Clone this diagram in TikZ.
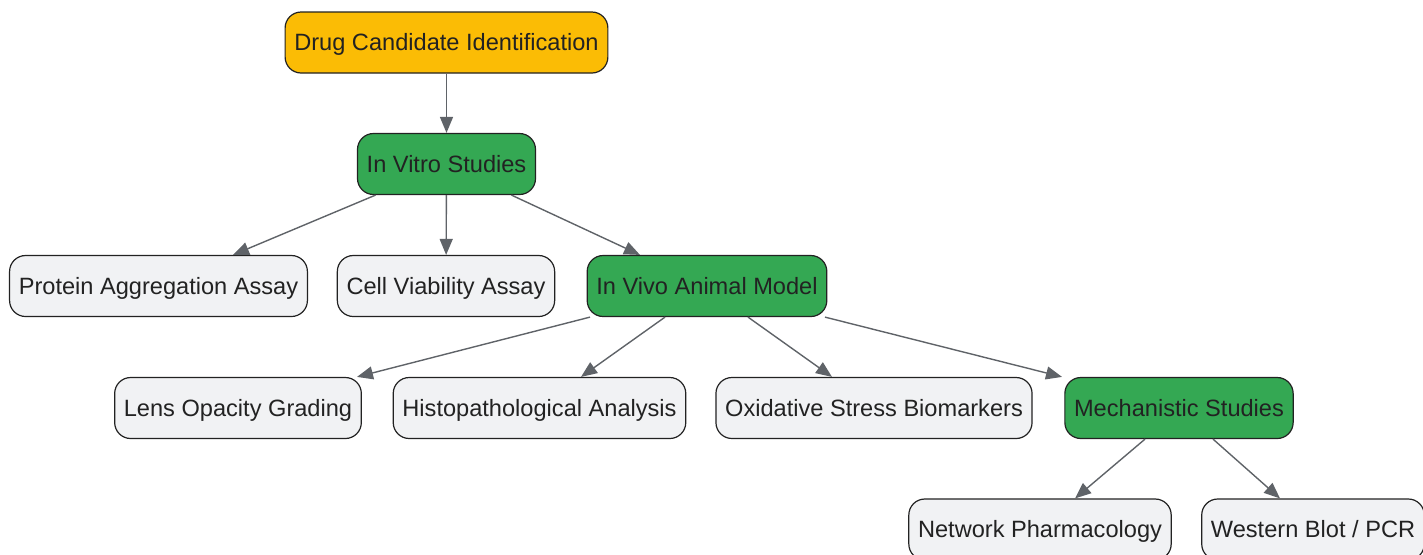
\documentclass[tikz,border=0pt]{standalone}
\usepackage{fontspec}
\setmainfont{Liberation Sans}
\usetikzlibrary{calc}
\usetikzlibrary{arrows.meta}
\definecolor{stepgray}{HTML}{F1F2F4}
\definecolor{stepgreen}{HTML}{34A853}
\definecolor{steporange}{HTML}{FBBC05}
\definecolor{edgegray}{HTML}{5F6368}
\definecolor{textdark}{HTML}{222222}
\tikzset{
  % common look of every box
  stepbox/.style={
    draw=textdark, line width=0.6pt, rounded corners=8pt,
    minimum height=30.5pt, inner xsep=4.6pt, inner ysep=0pt,
    text height=8.4pt, text depth=0pt,
    text=textdark, font=\fontsize{11.8}{14}\selectfont,
  },
  leafbox/.style={stepbox, fill=stepgray},
  mainbox/.style={stepbox, fill=stepgreen},
  startbox/.style={stepbox, fill=steporange},
  % connector with a filled arrow at its end
  flow/.style={draw=edgegray, line width=0.7pt,
    -{Triangle[length=8pt,width=6.5pt]}},
}

\begin{document}
\begin{tikzpicture}[x=0.5pt,y=-0.5pt]
\useasboundingbox (0,0) rectangle (1423,554);
\node[startbox] (drug) at (446.5,42.5) {Drug Candidate Identification};
\node[mainbox]  (invitro) at (446.5,164) {In Vitro Studies};
\node[leafbox]  (protein) at (158.5,286) {Protein Aggregation Assay};
\node[leafbox]  (cell) at (446,286) {Cell Viability Assay};
\node[mainbox]  (invivo) at (707,286) {In Vivo Animal Model};
\node[leafbox]  (lens) at (238,408) {Lens Opacity Grading};
\node[leafbox]  (histo) at (539.5,408) {Histopathological Analysis};
\node[leafbox]  (oxid) at (874,408) {Oxidative Stress Biomarkers};
\node[mainbox]  (mech) at (1179,408) {Mechanistic Studies};
\node[leafbox]  (network) at (1040,529.5) {Network Pharmacology};
\node[leafbox]  (western) at (1313,529.5) {Western Blot / PCR};

\draw[flow] (drug) -- (invitro);
\draw[flow] ($(invitro.south)+(-71,0)$) -- ($(protein.north)+(74.5,0)$);
\draw[flow] (invitro) -- (cell);
\draw[flow] ($(invitro.south)+(65,0)$) -- ($(invivo.north)+(-67,0)$);
\draw[flow] ($(invivo.south)+(-117,0)$) -- ($(lens.north)+(119,0)$);
\draw[flow] ($(invivo.south)+(-42,0)$) -- ($(histo.north)+(41.5,0)$);
\draw[flow] ($(invivo.south)+(41,0)$) -- ($(oxid.north)+(-42,0)$);
\draw[flow] ($(invivo.south)+(118,0)$) -- ($(mech.north)+(-117,0)$);
\draw[flow] ($(mech.south)+(-34,0)$) -- ($(network.north)+(35,0)$);
\draw[flow] ($(mech.south)+(34,0)$) -- ($(western.north)+(-33,0)$);
\end{tikzpicture}
\end{document}
